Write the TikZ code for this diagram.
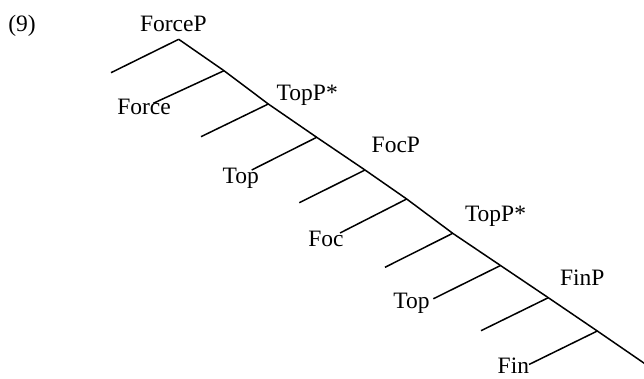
\documentclass[tikz,border=0pt]{standalone}
\usepackage{fontspec}
\setmainfont{Liberation Serif}
\begin{document}
\begin{tikzpicture}[x=1pt,y=-1pt,
  branch/.style={line width=1.5pt, line cap=butt},
  lab/.style={inner sep=0pt, outer sep=0pt, anchor=base west, font=\fontsize{23.5}{28}\selectfont}]
\useasboundingbox (0,0) rectangle (644,379);
% spine nodes
\coordinate (N0) at (178.7,39.3);
\coordinate (N1) at (224,70.7);
\coordinate (N2) at (268.3,104);
\coordinate (N3) at (316.7,137.3);
\coordinate (N4) at (365,170);
\coordinate (N5) at (406.7,199);
\coordinate (N6) at (452.7,233.3);
\coordinate (N7) at (500.5,265.5);
\coordinate (N8) at (548.3,297.7);
\coordinate (N9) at (597.3,331);
\coordinate (N10) at (645,363.8);
% left branch ends
\coordinate (L0) at (111,72.7);
\coordinate (L1) at (153.3,103.3);
\coordinate (L2) at (201,136.7);
\coordinate (L3) at (251.7,170);
\coordinate (L4) at (299.3,202.7);
\coordinate (L5) at (340,233);
\coordinate (L6) at (385,267.3);
\coordinate (L7) at (433.3,298.8);
\coordinate (L8) at (481,330.7);
\coordinate (L9) at (529,364.5);
% spine
\draw[branch] (N0) -- (N1) -- (N2) -- (N3) -- (N4) -- (N5) -- (N6) -- (N7) -- (N8) -- (N9) -- (N10);
% branches
\draw[branch] (N0) -- (L0);
\draw[branch] (N1) -- (L1);
\draw[branch] (N2) -- (L2);
\draw[branch] (N3) -- (L3);
\draw[branch] (N4) -- (L4);
\draw[branch] (N5) -- (L5);
\draw[branch] (N6) -- (L6);
\draw[branch] (N7) -- (L7);
\draw[branch] (N8) -- (L8);
\draw[branch] (N9) -- (L9);
% labels
\node[lab] (ex) at (8.3,32) {(9)};
\node[lab] (forceP) at (140,32) {ForceP};
\node[lab] (force) at (117.3,115) {Force};
\node[lab] (topPa) at (276.7,101) {TopP*};
\node[lab] (topa) at (222.7,183.3) {Top};
\node[lab] (focP) at (371.7,153) {FocP};
\node[lab] (foc) at (308.3,246.5) {Foc};
\node[lab] (topPb) at (465,222) {TopP*};
\node[lab] (topb) at (393.3,308.3) {Top};
\node[lab] (finP) at (560,285) {FinP};
\node[lab] (fin) at (497.7,373.3) {Fin};
\end{tikzpicture}
\end{document}
